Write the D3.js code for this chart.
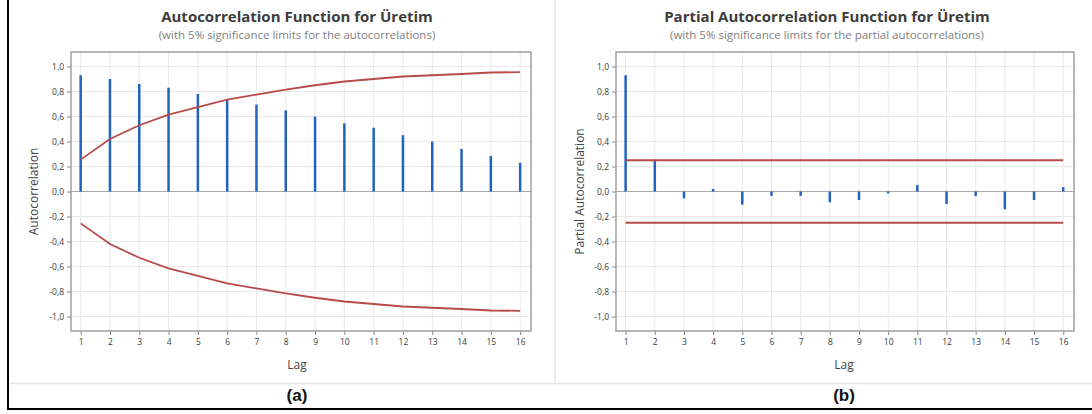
<!DOCTYPE html>
<html>
<head>
<meta charset="utf-8">
<script src="https://cdn.jsdelivr.net/npm/d3@7"></script>
<style>
	body { margin: 0; background: #fff; }
	svg { display: block; font-family: "Open Sans", "Noto Sans", sans-serif; }
</style>
</head>
<body>
<svg id="chart" width="1092" height="414"></svg>
<script>
'use strict';

// Lags shown on both plots
var lags = [1, 2, 3, 4, 5, 6, 7, 8, 9, 10, 11, 12, 13, 14, 15, 16];

// Autocorrelations and their 5% limits (lower limit is the mirror)
var acf_values = [0.93, 0.90, 0.86, 0.83, 0.78, 0.74, 0.695, 0.65, 0.60, 0.545, 0.51, 0.45, 0.40, 0.34, 0.285, 0.23];
var acf_limits = [0.255, 0.42, 0.53, 0.615, 0.675, 0.735, 0.775, 0.815, 0.85, 0.88, 0.90, 0.92, 0.93, 0.94, 0.952, 0.955];

// Partial autocorrelations, limit is constant
var pacf_values = [0.93, 0.255, -0.055, 0.02, -0.105, -0.035, -0.035, -0.086, -0.068, -0.015, 0.052, -0.10, -0.037, -0.142, -0.068, 0.035];
var pacf_limit = 0.25;

var y_ticks = [-1.0, -0.8, -0.6, -0.4, -0.2, 0.0, 0.2, 0.4, 0.6, 0.8, 1.0];

var svg = d3.select('#chart');
var comma = d3.formatLocale({ decimal: ',', thousands: '.', grouping: [3], currency: ['', ''], minus: '-' }).format('.1f');

// outer frame and panel separators
svg.append('line').attr('x1', 555).attr('x2', 555).attr('y1', 0).attr('y2', 383)
	.attr('stroke', '#e4e4e4').attr('stroke-width', 1.5);
svg.append('line').attr('x1', 8).attr('x2', 1092).attr('y1', 383.5).attr('y2', 383.5)
	.attr('stroke', '#e4e4e4').attr('stroke-width', 1.5);
svg.append('rect').attr('x', 8).attr('y', -10).attr('width', 1100).attr('height', 419)
	.attr('fill', 'none').attr('stroke', '#000').attr('stroke-width', 2);

drawPanel({
	left: 71, right: 531, center: 297, ycenter_label: 38,
	title: 'Autocorrelation Function for Üretim',
	subtitle: '(with 5% significance limits for the autocorrelations)',
	ylabel: 'Autocorrelation',
	values: acf_values,
	upper: acf_limits,
	lower: acf_limits.map(function(v) { return -v; }),
	tag: '(a)'
});

drawPanel({
	left: 616, right: 1074, center: 827, ycenter_label: 584,
	title: 'Partial Autocorrelation Function for Üretim',
	subtitle: '(with 5% significance limits for the partial autocorrelations)',
	ylabel: 'Partial Autocorrelation',
	values: pacf_values,
	upper: lags.map(function() { return pacf_limit; }),
	lower: lags.map(function() { return -pacf_limit; }),
	tag: '(b)',
	lag_center: 844
});

function drawPanel(p) {
	var top = 52, bottom = 331;
	var x_scale = d3.scaleLinear().domain([0.67, 16.37]).range([p.left, p.right]);
	var y_scale = d3.scaleLinear().domain([-1.116, 1.116]).range([bottom, top]);
	var g = svg.append('g');
	var mid = p.lag_center || p.center;

	g.append('text').attr('x', p.center).attr('y', 22).attr('text-anchor', 'middle')
		.attr('font-size', 15).attr('font-weight', 'bold').attr('fill', '#3d3d3d').text(p.title);
	g.append('text').attr('x', p.center).attr('y', 39).attr('text-anchor', 'middle')
		.attr('font-size', 11.5).attr('fill', '#808080').text(p.subtitle);

	// gridlines
	g.selectAll('line.vgrid').data(lags).enter().append('line')
		.attr('class', 'vgrid')
		.attr('x1', function(d) { return x_scale(d); }).attr('x2', function(d) { return x_scale(d); })
		.attr('y1', top).attr('y2', bottom)
		.attr('stroke', '#e8e8e8').attr('stroke-width', 1);
	g.selectAll('line.hgrid').data(y_ticks).enter().append('line')
		.attr('class', 'hgrid')
		.attr('x1', p.left).attr('x2', p.right)
		.attr('y1', function(d) { return y_scale(d); }).attr('y2', function(d) { return y_scale(d); })
		.attr('stroke', '#e8e8e8').attr('stroke-width', 1);

	// axes
	var x_axis = d3.axisBottom(x_scale).tickValues(lags).tickSize(4).tickPadding(4).tickFormat(d3.format('d'));
	var y_axis = d3.axisLeft(y_scale).tickValues(y_ticks).tickSize(4).tickPadding(3).tickFormat(comma);
	var xa = g.append('g').attr('transform', 'translate(0,' + bottom + ')').call(x_axis);
	var ya = g.append('g').attr('transform', 'translate(' + p.left + ',0)').call(y_axis);
	[xa, ya].forEach(function(a) {
		a.select('.domain').remove();
		a.selectAll('line').attr('stroke', '#888');
		a.selectAll('text').attr('fill', '#3a3a3a').attr('font-size', 8.5).attr('font-family', '"Open Sans", sans-serif');
	});

	// zero line
	g.append('line').attr('x1', p.left).attr('x2', p.right)
		.attr('y1', y_scale(0)).attr('y2', y_scale(0))
		.attr('stroke', '#a8a8a8').attr('stroke-width', 1.2);

	// frame
	g.append('rect').attr('x', p.left).attr('y', top)
		.attr('width', p.right - p.left).attr('height', bottom - top)
		.attr('fill', 'none').attr('stroke', '#a0a0a0').attr('stroke-width', 1.5);

	// bars
	g.selectAll('line.bar').data(p.values).enter().append('line')
		.attr('class', 'bar')
		.attr('x1', function(d, i) { return x_scale(lags[i]); })
		.attr('x2', function(d, i) { return x_scale(lags[i]); })
		.attr('y1', y_scale(0))
		.attr('y2', function(d) { return y_scale(d); })
		.attr('stroke', '#2363c0').attr('stroke-width', 2.5);

	// significance limits
	var limit_line = d3.line()
		.x(function(d, i) { return x_scale(lags[i]); })
		.y(function(d) { return y_scale(d); });
	[p.upper, p.lower].forEach(function(series) {
		g.append('path').attr('d', limit_line(series))
			.attr('fill', 'none').attr('stroke', '#b84a4a').attr('stroke-width', 1.8);
	});

	// axis titles and tag
	g.append('text').attr('transform', 'translate(' + p.ycenter_label + ',' + y_scale(0) + ') rotate(-90)')
		.attr('text-anchor', 'middle').attr('font-size', 12).attr('fill', '#444').text(p.ylabel);
	g.append('text').attr('x', mid).attr('y', 369).attr('text-anchor', 'middle')
		.attr('font-size', 12).attr('fill', '#444').text('Lag');
	g.append('text').attr('x', mid).attr('y', 401).attr('text-anchor', 'middle')
		.attr('font-size', 17).attr('font-weight', 'bold').attr('fill', '#111')
		.attr('font-family', '"Liberation Sans", Arial, sans-serif').text(p.tag);
}
</script>
</body>
</html>
